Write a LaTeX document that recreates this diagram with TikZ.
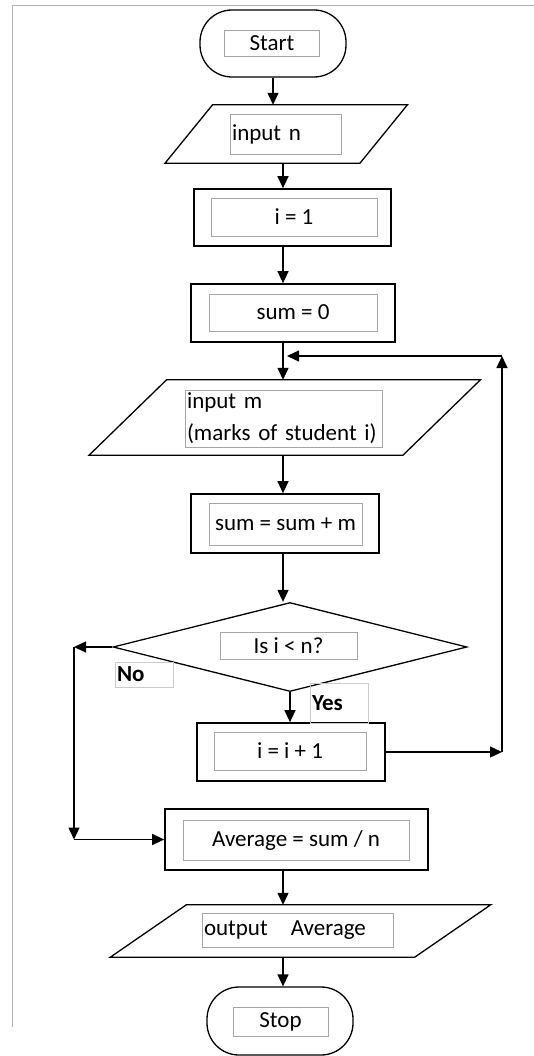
\documentclass[tikz,border=0pt]{standalone}
\usepackage{fontspec}
\setmainfont{Carlito}
\usetikzlibrary{positioning, arrows.meta, shapes.geometric, calc}

\begin{document}
\begin{tikzpicture}[
  x=1pt, y=-1pt,
  font=\fontsize{23}{32}\selectfont,
  term/.style={draw, line width=1.3pt, rounded corners=32pt,
               minimum width=146pt, minimum height=67pt},
  proc/.style={draw, line width=1.7pt, inner sep=0pt},
  iobody/.style={inner sep=0pt},
  tbox/.style={draw=black!35, line width=0.6pt, inner sep=0pt},
  tboxl/.style={tbox, inner xsep=2pt, align=left},
  lbox/.style={draw=black!20, line width=0.6pt, inner xsep=2pt, inner ysep=0pt,
               text width=54pt, minimum height=25pt, align=left,
               font=\fontsize{23}{28}\selectfont\bfseries},
  arr/.style={-{Triangle[length=12pt, width=11pt]}, line width=1.3pt}
]
\useasboundingbox (0,0) rectangle (534,1056);
\draw[black!30, line width=1pt] (12,1027) -- (12,6) -- (534,6);
\coordinate (spine) at (283,0);

% outer shapes
\node[term] (start) at (273,43.5) {};
\node[iobody, minimum width=194.5pt, minimum height=58pt] (inpn) at (286.25,134) {};
\node[proc, minimum width=197pt, minimum height=57pt] (i1) at (292.5,217.5) {};
\node[proc, minimum width=204pt, minimum height=58pt] (sum0) at (293,313) {};
\node[iobody, minimum width=313.5pt, minimum height=75pt] (inpm) at (284.75,417.5) {};
\node[proc, minimum width=188pt, minimum height=59pt] (summ) at (285,523.5) {};
\node[draw, diamond, line width=1.3pt, inner sep=0pt,
      minimum width=354pt, minimum height=89pt] (dec) at (290,647) {};
\node[proc, minimum width=188pt, minimum height=58pt] (inc) at (291,752) {};
\node[proc, minimum width=263pt, minimum height=61pt] (avg) at (296.5,839.5) {};
\node[iobody, minimum width=304pt, minimum height=52pt] (outavg) at (300.5,931) {};
\node[term, minimum height=68pt] (stop) at (280,1021) {};

\foreach \n/\s in {inpn/23.75, inpm/38.75, outavg/38}
  \draw[line width=1.3pt] ($(\n.north west)+(\s,0)$) -- ($(\n.north east)+(\s,0)$)
    -- ($(\n.south east)+(-\s,0)$) -- ($(\n.south west)+(-\s,0)$) -- cycle;

% text boxes
\node[tbox, minimum width=95pt, minimum height=26pt] (startt) at (272,43) {Start};
\node[tboxl, text width=107pt, minimum height=40pt] (inpnt) at (285.5,134) {input n};
\node[tbox, minimum width=166pt, minimum height=38pt] (i1t) at (294,217) {i = 1};
\node[tbox, minimum width=168pt, minimum height=37pt] (sum0t) at (293,312.5) {sum = 0};
\node[tboxl, text width=193pt, minimum height=57pt] (inpmt) at (283.5,418.5)
  {input m\\(marks of student i)};
\node[tbox, minimum width=153pt, minimum height=42pt] (summt) at (285.5,524) {sum = sum + m};
\node[tbox, minimum width=137pt, minimum height=27pt] (dect) at (288.5,645.5) {Is i < n?};
\node[tbox, minimum width=152pt, minimum height=38pt] (inct) at (290,751) {i = i + 1};
\node[tbox, minimum width=226pt, minimum height=40pt] (avgt) at (296,840) {Average = sum / n};
\node[tboxl, text width=187pt, minimum height=34pt] (outavgt) at (297.5,930) {output\quad Average};
\node[tbox, minimum width=95pt, minimum height=29pt] (stopt) at (280.5,1021.5) {Stop};

\node[lbox] (no) at (144,674.5) {No};
\node[lbox, minimum height=40pt] (yes) at (339,703) {Yes};

% connectors
\draw[arr] (start.south) -- (start.south |- inpn.north);
\draw[arr] (inpn.south -| spine) -- (i1.north -| spine);
\draw[arr] (i1.south -| spine) -- (sum0.north -| spine);
\draw[arr] (sum0.south -| spine) -- (inpm.north -| spine);
\draw[arr] (inpm.south -| spine) -- (summ.north -| spine);
\draw[arr] (summ.south -| spine) -- (dec.north -| spine);
\draw[arr] (dec.south) -- (dec.south |- inc.north);
\draw[arr] (avg.south -| spine) -- (outavg.north -| spine);
\draw[arr] (outavg.south -| spine) -- (stop.north -| spine);

% loop back
\coordinate (rtop) at (502,356);
\coordinate (rbot) at (inc.east -| rtop);
\draw[arr] (inc.east) -- (rbot);
\draw[arr] (rbot) -- (rtop);
\draw[arr] (rtop) -- ([xshift=4pt]rtop -| spine);

% no branch
\coordinate (lcol) at (74,0);
\draw[arr] (dec.west) -- (dec.west -| lcol);
\draw[arr] (dec.west -| lcol) -- (avg.west -| lcol);
\draw[arr] (avg.west -| lcol) -- (avg.west);
\end{tikzpicture}
\end{document}
